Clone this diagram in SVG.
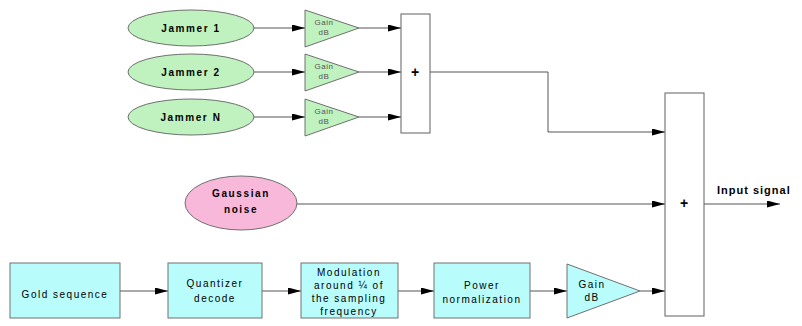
<svg xmlns="http://www.w3.org/2000/svg" width="802" height="326" viewBox="0 0 802 326">
<style>
.ell-g{fill:#bff2bf;stroke:#707070;stroke-width:1}
.ell-p{fill:#f7b8d9;stroke:#707070;stroke-width:1}
.box{fill:#b8fcfc;stroke:#707070;stroke-width:1}
.sum{fill:#ffffff;stroke:#606060;stroke-width:1}
.tri-g{fill:#bff2bf;stroke:#707070;stroke-width:1}
.tri-c{fill:#b8fcfc;stroke:#707070;stroke-width:1}
.lbl{font-family:"Liberation Sans",Arial,sans-serif;font-weight:bold;font-size:10px;letter-spacing:1.6px;fill:#000;text-anchor:middle}
.txt{font-family:"Liberation Sans",Arial,sans-serif;font-size:10px;letter-spacing:1.5px;fill:#000;text-anchor:middle}
.small{font-family:"Liberation Sans",Arial,sans-serif;font-size:8px;letter-spacing:0.5px;fill:#555;text-anchor:middle}
.plus{font-family:"Liberation Sans",Arial,sans-serif;font-weight:bold;font-size:14px;fill:#000;text-anchor:middle}
.conn{fill:none;stroke:#555;stroke-width:1;marker-end:url(#ah)}
</style>
<defs>
<marker id="ah" markerUnits="userSpaceOnUse" markerWidth="14" markerHeight="8" refX="13" refY="3.5" orient="auto">
<path d="M0,0 L13,3.5 L0,7 z" fill="#000"/>
</marker>
</defs>
<rect width="802" height="326" fill="#fff"/>
<g id="connectors">
<path class="conn" d="M254,28 H305"/>
<path class="conn" d="M254,72 H305"/>
<path class="conn" d="M254,117 H305"/>
<path class="conn" d="M359,28 H401"/>
<path class="conn" d="M359,72 H401"/>
<path class="conn" d="M359,117 H401"/>
<path class="conn" d="M430,72 H548 V132 H665"/>
<path class="conn" d="M297,204 H665"/>
<path class="conn" d="M704,204 H780"/>
<path class="conn" d="M120,291 H168"/>
<path class="conn" d="M262,291 H301"/>
<path class="conn" d="M398,291 H434"/>
<path class="conn" d="M530,291 H567"/>
<path class="conn" d="M640,291 H665"/>
</g>
<g id="jammer1"><ellipse class="ell-g" cx="191" cy="28" rx="63" ry="18"/><text class="lbl" x="191" y="32">Jammer 1</text></g>
<g id="jammer2"><ellipse class="ell-g" cx="191" cy="72" rx="63" ry="18"/><text class="lbl" x="191" y="76">Jammer 2</text></g>
<g id="jammerN"><ellipse class="ell-g" cx="191" cy="117" rx="63" ry="18"/><text class="lbl" x="191" y="121">Jammer N</text></g>
<g id="gain1"><polygon class="tri-g" points="305,10 359,28 305,47"/><text class="small" x="324" y="25">Gain</text><text class="small" x="324" y="35">dB</text></g>
<g id="gain2"><polygon class="tri-g" points="305,54 359,72 305,91"/><text class="small" x="324" y="69">Gain</text><text class="small" x="324" y="79">dB</text></g>
<g id="gainN"><polygon class="tri-g" points="305,99 359,117 305,136"/><text class="small" x="324" y="114">Gain</text><text class="small" x="324" y="124">dB</text></g>
<g id="sum1"><rect class="sum" x="401" y="14" width="29" height="119"/><text class="plus" x="415" y="77">+</text></g>
<g id="gaussian"><ellipse class="ell-p" cx="241" cy="203" rx="56" ry="27"/><text class="lbl" x="241" y="197">Gaussian</text><text class="lbl" x="241" y="213">noise</text></g>
<g id="sum2"><rect class="sum" x="665" y="93" width="39" height="223"/><text class="plus" x="684" y="208">+</text></g>
<g id="output"><text class="lbl" x="717" y="194" style="text-anchor:start;font-size:11px;letter-spacing:1px">Input signal</text></g>
<g id="gold"><rect class="box" x="10" y="263" width="110" height="55"/><text class="txt" x="65" y="298">Gold sequence</text></g>
<g id="quantizer"><rect class="box" x="168" y="263" width="94" height="55"/><text class="txt" x="215" y="287">Quantizer</text><text class="txt" x="215" y="302">decode</text></g>
<g id="modulation"><rect class="box" x="301" y="263" width="97" height="55"/><text class="txt" x="349" y="276">Modulation</text><text class="txt" x="349" y="289">around ¼ of</text><text class="txt" x="349" y="302">the sampling</text><text class="txt" x="349" y="315">frequency</text></g>
<g id="power"><rect class="box" x="434" y="263" width="96" height="55"/><text class="txt" x="482" y="289">Power</text><text class="txt" x="482" y="303">normalization</text></g>
<g id="gainS"><polygon class="tri-c" points="567,264 640,291 567,318"/><text class="txt" x="592" y="288">Gain</text><text class="txt" x="592" y="301">dB</text></g>
</svg>
